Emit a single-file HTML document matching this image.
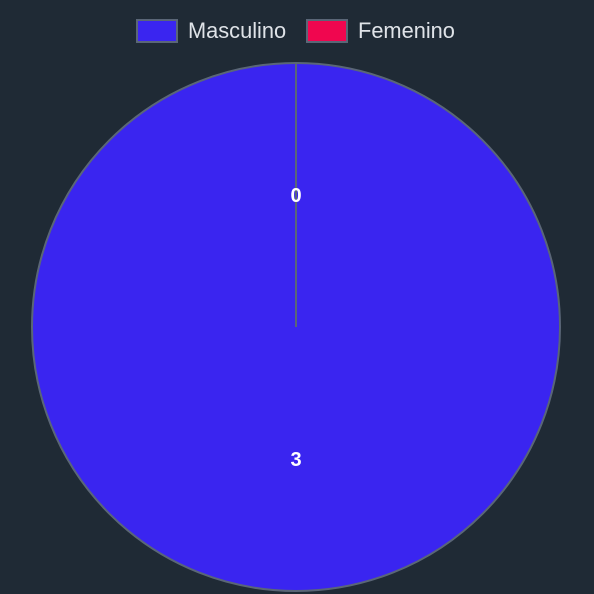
<!DOCTYPE html>
<html><head><meta charset="utf-8"><style>
html,body{margin:0;padding:0;background:#1f2a35;width:594px;height:594px;overflow:hidden}
svg{display:block}
</style></head><body>
<svg id="chart" width="594" height="594" xmlns="http://www.w3.org/2000/svg">
<rect width="594" height="594" fill="#1f2a35"/>
<g id="legend"></g>
<g id="slices"></g>
<g id="labels"></g>
</svg>
<script>
const categories = ["Masculino", "Femenino"];
const values = [3, 0];
const colors = ["#3a25f0", "#f0064f"];

const NS = "http://www.w3.org/2000/svg";
const cx = 296, cy = 327, r = 264;
const total = values.reduce((a, b) => a + b, 0);

// legend
const lg = document.getElementById('legend');
const legendX = [136, 306];
categories.forEach((c, i) => {
  const g = document.createElementNS(NS, 'g');
  
  
  const b = document.createElementNS(NS, 'rect');
  b.setAttribute('x', legendX[i] + 1); b.setAttribute('y', 20);
  b.setAttribute('width', 40); b.setAttribute('height', 22);
  b.setAttribute('fill', colors[i]); b.setAttribute('stroke', '#5a6677'); b.setAttribute('stroke-width', 2);
  g.appendChild(b);
  const t = document.createElementNS(NS, 'text');
  t.setAttribute('x', legendX[i] + 52); t.setAttribute('y', 38);
  t.setAttribute('fill', '#dfe3e8'); t.setAttribute('font-family', 'Liberation Sans, sans-serif');
  t.setAttribute('font-size', '21.8');
  t.textContent = c;
  g.appendChild(t);
  lg.appendChild(g);
});

// slices
const sg = document.getElementById('slices');
const lb = document.getElementById('labels');
let a0 = -Math.PI / 2;
values.forEach((v, i) => {
  const ang = total ? v / total * 2 * Math.PI : 0;
  const a1 = a0 + ang;
  let el;
  if (ang >= 2 * Math.PI - 1e-9) {
    el = document.createElementNS(NS, 'circle');
    el.setAttribute('cx', cx); el.setAttribute('cy', cy); el.setAttribute('r', r);
  } else {
    el = document.createElementNS(NS, 'path');
    const x0 = cx + r * Math.cos(a0), y0 = cy + r * Math.sin(a0);
    const x1 = cx + r * Math.cos(a1), y1 = cy + r * Math.sin(a1);
    el.setAttribute('d', `M${cx},${cy} L${x0},${y0} A${r},${r} 0 ${ang > Math.PI ? 1 : 0} 1 ${x1},${y1} Z`);
  }
  el.setAttribute('fill', colors[i]);
  el.setAttribute('stroke', '#5a6677'); el.setAttribute('stroke-width', 2);
  
  
  sg.appendChild(el);
  const mid = (a0 + a1) / 2;
  const t = document.createElementNS(NS, 'text');
  t.setAttribute('x', cx + r / 2 * Math.cos(mid));
  t.setAttribute('y', cy + r / 2 * Math.sin(mid) + 7);
  t.setAttribute('text-anchor', 'middle'); t.setAttribute('fill', '#ffffff');
  t.setAttribute('font-family', 'Liberation Sans, sans-serif');
  t.setAttribute('font-size', '20'); t.setAttribute('font-weight', 'bold');
  
  
  t.textContent = v;
  lb.appendChild(t);
  a0 = a1;
});
// boundary line for zero slice
const ln = document.createElementNS(NS, 'line');
ln.setAttribute('x1', cx); ln.setAttribute('y1', cy);
ln.setAttribute('x2', cx); ln.setAttribute('y2', cy - r);
ln.setAttribute('stroke', '#5a6677'); ln.setAttribute('stroke-width', 2);


sg.appendChild(ln);
</script>
</body></html>
